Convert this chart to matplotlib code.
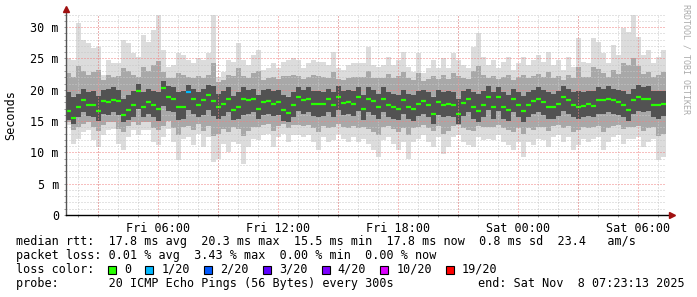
import numpy as np
import matplotlib
matplotlib.use("Agg")
import matplotlib.pyplot as plt
from matplotlib.patches import Rectangle

# 30 hours of smokeping data, one sample per 15 min, start Fri 01:23:13
t_start = 1 + 23 / 60 + 13 / 3600   # hours after Fri 00:00
step = 0.25

# median rtt (ms)
med = [16.6, 15.5, 17.3, 18.3, 17.5, 17.5, 16.6, 18.2, 18.1, 18.3, 18.2, 15.9, 16.8, 17.5, 19.8,
       17.3, 18.1, 17.5, 17.0, 20.3, 18.9, 18.6, 17.3, 17.3, 19.7, 18.5, 17.5, 18.3, 19.1, 18.2,
       17.3, 17.8, 18.6, 16.7, 17.3, 18.5, 18.3, 18.5, 17.0, 18.1, 18.2, 17.8, 18.1, 16.8, 16.3,
       17.5, 18.8, 18.3, 18.6, 17.7, 17.7, 17.7, 18.5, 17.5, 18.9, 17.9, 18.1, 17.7, 18.8, 16.9,
       18.6, 18.2, 17.3, 18.6, 17.5, 17.3, 17.0, 18.3, 17.2, 16.9, 17.8, 18.2, 17.5, 16.2, 18.1,
       17.5, 17.8, 17.5, 16.1, 17.9, 18.5, 17.3, 16.6, 17.5, 18.9, 17.3, 18.8, 17.3, 16.8, 18.5,
       17.5, 16.6, 17.5, 18.2, 18.5, 18.1, 17.3, 17.2, 17.7, 18.8, 18.3, 17.5, 17.2, 17.4, 17.8,
       17.4, 18.3, 18.3, 18.6, 18.3, 18.1, 17.5, 16.8, 18.3, 18.8, 18.5, 18.6, 17.5, 17.5, 17.8]

# slowest ping per sample (ms)
hi0 = [25.0, 24.7, 30.6, 27.9, 27.4, 26.6, 26.9, 22.3, 24.7, 24.2, 24.2, 27.9, 27.4, 25.8, 25.3,
       28.7, 27.6, 29.5, 31.9, 26.3, 23.7, 24.0, 25.8, 25.5, 24.7, 24.2, 25.0, 24.7, 25.8, 31.9,
       22.1, 22.9, 24.7, 24.5, 27.4, 24.7, 23.9, 25.5, 26.3, 23.1, 23.4, 24.2, 23.4, 24.5, 24.7,
       25.0, 24.7, 23.4, 24.2, 24.7, 24.5, 24.5, 23.9, 26.1, 23.4, 23.1, 23.9, 24.2, 24.2, 24.2,
       26.9, 23.9, 23.7, 23.9, 25.3, 23.9, 24.7, 26.1, 23.7, 22.9, 25.8, 22.6, 23.4, 24.7, 23.4,
       25.0, 23.4, 25.8, 24.7, 23.9, 23.4, 26.9, 29.0, 25.3, 23.9, 24.7, 23.4, 24.5, 25.3, 23.1,
       24.2, 25.3, 23.9, 24.7, 25.5, 24.5, 26.1, 23.9, 24.7, 23.1, 25.3, 23.7, 28.2, 24.5, 24.2,
       28.2, 27.6, 25.8, 24.2, 27.1, 25.5, 29.8, 29.2, 31.9, 28.4, 25.5, 26.3, 24.2, 25.3, 26.3]

# fastest ping per sample (ms)
lo0 = [14.4, 11.4, 12.2, 13.3, 13.6, 12.0, 10.9, 12.8, 13.6, 13.8, 11.4, 10.4, 12.5, 13.6, 12.8,
       13.6, 13.6, 11.7, 11.2, 12.5, 13.8, 11.7, 8.8, 12.2, 12.5, 11.2, 13.0, 10.9, 12.5, 8.5,
       9.0, 11.4, 10.1, 11.7, 11.4, 8.2, 10.9, 12.2, 12.0, 12.8, 13.0, 10.9, 12.5, 13.0, 11.7,
       12.8, 12.8, 12.5, 12.8, 11.7, 10.4, 12.5, 11.7, 12.0, 13.0, 12.2, 11.7, 12.5, 11.7, 12.2,
       11.4, 10.4, 9.3, 12.0, 12.5, 11.4, 10.4, 11.7, 9.0, 11.7, 12.2, 12.8, 11.7, 10.9, 12.5,
       9.8, 10.9, 12.5, 12.8, 11.7, 11.2, 10.9, 12.5, 12.0, 12.2, 12.0, 12.8, 11.7, 11.2, 10.4,
       11.7, 9.3, 11.7, 11.2, 12.2, 12.0, 10.9, 12.5, 12.8, 11.7, 12.5, 10.4, 11.2, 12.2, 11.7,
       12.2, 12.5, 10.4, 11.7, 12.5, 12.8, 11.4, 12.2, 12.2, 12.5, 10.9, 11.7, 12.2, 8.8, 9.3]

# 2nd / 19th ping (ms)
hi1 = [22.6, 22.0, 23.8, 23.0, 22.4, 22.8, 23.2, 21.6, 22.4, 22.0, 22.2, 23.4, 23.0, 22.4, 22.0,
       23.6, 23.0, 24.0, 24.6, 22.8, 21.8, 21.9, 22.6, 22.3, 22.0, 21.8, 22.2, 21.9, 22.4, 24.2,
       21.2, 21.6, 22.4, 22.2, 23.4, 22.2, 21.9, 22.6, 23.0, 21.6, 21.8, 22.0, 21.7, 22.2, 22.2,
       22.4, 22.2, 21.7, 22.0, 22.3, 22.2, 22.1, 21.9, 22.8, 21.7, 21.6, 21.9, 22.0, 22.0, 22.0,
       23.0, 21.9, 21.8, 21.9, 22.5, 21.9, 22.2, 22.8, 21.8, 21.5, 22.6, 21.4, 21.7, 22.2, 21.7,
       22.3, 21.7, 22.6, 22.2, 21.9, 21.7, 23.0, 23.8, 22.4, 21.9, 22.2, 21.7, 22.1, 22.4, 21.6,
       22.0, 22.4, 21.9, 22.2, 22.5, 22.1, 22.8, 21.9, 22.2, 21.6, 22.4, 21.8, 23.6, 22.1, 22.0,
       23.6, 23.3, 22.6, 22.0, 23.2, 22.5, 24.2, 24.0, 25.0, 23.8, 22.5, 22.8, 22.0, 22.4, 22.8]
lo1 = [14.8, 13.6, 14.0, 14.6, 14.8, 14.0, 13.4, 14.4, 14.8, 14.9, 13.8, 13.2, 14.2, 14.8, 14.4,
       14.8, 14.8, 13.9, 13.6, 14.2, 15.0, 13.9, 12.8, 14.0, 14.2, 13.6, 14.5, 13.4, 14.2, 12.6,
       13.0, 13.8, 13.2, 14.0, 13.8, 12.6, 13.4, 14.0, 14.0, 14.4, 14.5, 13.4, 14.2, 14.5, 13.9,
       14.4, 14.4, 14.2, 14.4, 13.9, 13.2, 14.2, 13.9, 14.0, 14.5, 14.1, 13.9, 14.2, 13.9, 14.1,
       13.8, 13.2, 12.8, 14.0, 14.2, 13.8, 13.2, 13.9, 12.8, 13.9, 14.1, 14.4, 13.9, 13.4, 14.2,
       13.0, 13.4, 14.2, 14.4, 13.9, 13.6, 13.4, 14.2, 14.0, 14.1, 14.0, 14.4, 13.9, 13.6, 13.2,
       13.9, 12.9, 13.9, 13.6, 14.1, 14.0, 13.4, 14.2, 14.4, 13.9, 14.2, 13.2, 13.6, 14.1, 13.9,
       14.1, 14.2, 13.2, 13.9, 14.2, 14.4, 13.8, 14.1, 14.1, 14.2, 13.4, 13.9, 14.1, 12.6, 12.9]

# inner quartile pings (ms)
hi2 = [19.6, 18.8, 19.4, 20.2, 19.6, 19.8, 19.0, 20.0, 20.2, 20.4, 20.0, 18.6, 19.2, 19.8, 21.0,
       19.6, 20.2, 19.8, 19.6, 21.4, 20.6, 20.4, 19.6, 19.8, 20.8, 20.2, 19.6, 20.2, 20.8, 20.6,
       19.4, 19.8, 20.4, 19.0, 19.6, 20.4, 20.0, 20.2, 19.2, 20.0, 20.2, 19.8, 20.0, 19.2, 18.8,
       19.6, 20.4, 20.0, 20.4, 19.8, 19.8, 19.6, 20.2, 19.6, 20.6, 19.8, 20.0, 19.8, 20.4, 19.2,
       20.4, 20.0, 19.4, 20.4, 19.6, 19.4, 19.2, 20.0, 19.4, 19.2, 19.8, 20.0, 19.6, 18.8, 20.0,
       19.6, 19.8, 19.6, 18.6, 19.8, 20.2, 19.6, 19.4, 19.8, 20.6, 19.6, 20.4, 19.6, 19.2, 20.2,
       19.6, 19.0, 19.6, 20.0, 20.4, 20.0, 19.6, 19.4, 19.8, 20.6, 20.2, 19.6, 19.8, 19.6, 19.8,
       19.8, 20.4, 20.2, 20.6, 20.2, 20.0, 19.8, 19.4, 20.2, 20.8, 20.4, 20.6, 19.8, 19.8, 19.8]
lo2 = [15.2, 14.6, 15.6, 16.4, 15.8, 15.6, 15.0, 16.2, 16.0, 16.4, 16.0, 14.8, 15.2, 15.6, 17.0,
       15.6, 16.2, 15.6, 15.0, 17.4, 16.6, 16.4, 15.2, 15.4, 16.8, 16.2, 15.6, 16.0, 16.8, 15.8,
       15.4, 15.8, 16.4, 15.2, 15.4, 16.0, 16.2, 16.4, 15.4, 16.0, 16.2, 15.8, 16.0, 15.0, 14.8,
       15.6, 16.6, 16.2, 16.4, 15.8, 15.6, 15.8, 16.4, 15.6, 16.8, 16.0, 16.2, 15.8, 16.6, 15.2,
       16.4, 16.0, 15.4, 16.4, 15.6, 15.4, 15.2, 16.2, 15.4, 15.0, 15.8, 16.2, 15.6, 14.6, 16.0,
       15.6, 15.8, 15.6, 14.6, 15.8, 16.4, 15.4, 14.8, 15.6, 16.8, 15.4, 16.6, 15.4, 15.0, 16.4,
       15.6, 14.8, 15.6, 16.2, 16.4, 16.0, 15.4, 15.4, 15.8, 16.6, 16.2, 15.6, 15.4, 15.6, 15.8,
       15.6, 16.2, 16.2, 16.4, 16.2, 16.0, 15.6, 15.0, 16.2, 16.6, 16.4, 16.6, 15.6, 15.4, 15.8]

# samples with lost pings: (sample index, pings lost of 20)
loss_events = [(24, 1)]

loss_labels = ["0", "1/20", "2/20", "3/20", "4/20", "10/20", "19/20"]
loss_steps = [0, 1, 2, 3, 4, 10, 19]
loss_colors = ["#26ff00", "#00b8ff", "#0059ff", "#5e00ff", "#7e00ff", "#dd00ff", "#ff0000"]

xtick_hours = [6, 12, 18, 24, 30]
xtick_labels = ["Fri 06:00", "Fri 12:00", "Fri 18:00", "Sat 00:00", "Sat 06:00"]
ytick_vals = [0, 5, 10, 15, 20, 25, 30]
ytick_labels = ["0", "5 m", "10 m", "15 m", "20 m", "25 m", "30 m"]

legend_lines = [
    "median rtt:  17.8 ms avg  20.3 ms max  15.5 ms min  17.8 ms now  0.8 ms sd  23.4   am/s",
    "packet loss: 0.01 % avg  3.43 % max  0.00 % min  0.00 % now",
    "loss color:",
    "probe:       20 ICMP Echo Pings (56 Bytes) every 300s",
]
end_text = "end: Sat Nov  8 07:23:13 2025"

W, H = 697, 297
MONO = "DejaVu Sans Mono"
FS = 8.5

fig = plt.figure(figsize=(W / 100, H / 100), dpi=100)
fig.patch.set_facecolor("white")
ax = fig.add_axes([66 / W, 1 - 215 / H, 600 / W, 201 / H])

n = len(med)
edges = t_start + step * np.arange(n + 1)

ax.stairs(hi0, edges, baseline=lo0, fill=True, color="#dcdcdc", lw=0, zorder=1)
ax.stairs(hi1, edges, baseline=lo1, fill=True, color="#a8a8a8", lw=0, zorder=2)
ax.stairs(hi2, edges, baseline=lo2, fill=True, color="#525252", lw=0, zorder=3)

# median, coloured by loss
lost = dict(loss_events)
cols = []
for i in range(n):
    k = lost.get(i, 0)
    idx = max(j for j, s in enumerate(loss_steps) if s <= k)
    cols.append(loss_colors[idx])
ax.hlines(med, edges[:-1], edges[1:], colors=cols, lw=1.6, zorder=5)

ax.set_xlim(t_start, t_start + 30)
ax.set_ylim(0, 32.1)

ax.set_xticks(xtick_hours)
ax.set_xticklabels(xtick_labels, fontfamily=MONO, fontsize=FS)
ax.set_xticks(np.arange(2, 32, 1), minor=True)
ax.set_yticks(ytick_vals)
ax.set_yticklabels(ytick_labels, fontfamily=MONO, fontsize=FS)
ax.set_yticks(np.arange(1, 33, 1), minor=True)
ax.tick_params(which="both", length=1.5, width=0.7, color="#999999", pad=3.6)

# dotted rrdtool-style grid, drawn over the smoke
ax.set_axisbelow(False)
dots = (0, (1, 2))
ax.grid(which="minor", color="#c8c8c8", lw=0.72, ls=dots, zorder=6)
ax.grid(which="major", color="#f08080", lw=0.72, ls=dots, zorder=7)
for h in [3, 9, 15, 21, 27]:
    ax.axvline(h, color="#f08080", lw=0.72, ls=dots, zorder=7)

for s in ax.spines.values():
    s.set_visible(False)
ax.plot([0, 0], [0, 1 + 3 / 201], transform=ax.transAxes, color="#555555", lw=1, clip_on=False, zorder=8)
ax.plot([0, 1 + 3 / 600], [0, 0], transform=ax.transAxes, color="black", lw=1, clip_on=False, zorder=8)
ax.plot(0, 1 + 5 / 201, marker="^", ms=4.5, color="#a01010", transform=ax.transAxes, clip_on=False, zorder=9)
ax.plot(1 + 6 / 600, 0, marker=">", ms=4.5, color="#a01010", transform=ax.transAxes, clip_on=False, zorder=9)

fig.text(11 / W, 1 - 115 / H, "Seconds", rotation=90, ha="center", va="center",
         fontfamily=MONO, fontsize=FS)
fig.text(686 / W, 1 - 4 / H, "RRDTOOL / TOBI OETIKER", rotation=270, ha="center", va="top",
         fontfamily=MONO, fontsize=6, color="#aaaaaa")

ys = [241.5, 255.5, 269.5, 283.5]
for txt, y in zip(legend_lines, ys):
    fig.text(16 / W, 1 - y / H, txt, ha="left", va="center", fontfamily=MONO, fontsize=FS)
fig.text(477.7 / W, 1 - ys[3] / H, end_text, ha="left", va="center", fontfamily=MONO, fontsize=FS)

cw = 7.1
x = 108
for lab, c in zip(loss_labels, loss_colors):
    fig.patches.append(Rectangle((x / W, 1 - (ys[2] + 4) / H), 8 / W, 8 / H,
                                 transform=fig.transFigure, facecolor=c, edgecolor="black", lw=0.8))
    fig.text((x + 16) / W, 1 - ys[2] / H, lab, ha="left", va="center", fontfamily=MONO, fontsize=FS)
    x = x + 16 + len(lab) * cw + 14.3

fig.savefig("out.png", dpi=100)
